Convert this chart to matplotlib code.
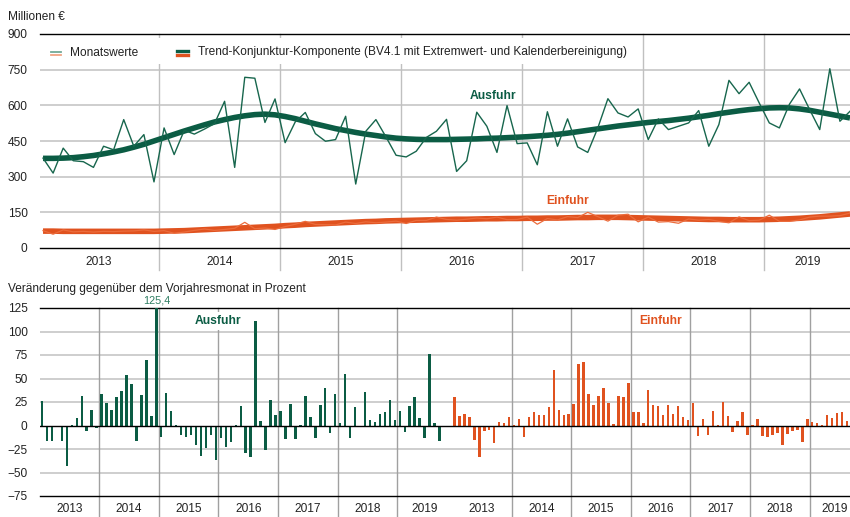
import matplotlib
matplotlib.use("Agg")
import matplotlib.pyplot as plt
from matplotlib.lines import Line2D
from matplotlib.patches import Rectangle
import numpy as np

plt.rcParams['font.family'] = ['Liberation Sans', 'DejaVu Sans']

years = ['2013', '2014', '2015', '2016', '2017', '2018', '2019']

# Millionen Euro, monthly Jan 2013 .. Sep 2019
ausfuhr_monat = [378, 315, 420, 367, 363, 339, 428, 413, 540, 428, 477, 278,
                 505, 393, 495, 479, 500, 523, 617, 339, 718, 714, 528, 627,
                 443, 530, 570, 481, 449, 456, 554, 269, 491, 540, 467, 390,
                 383, 407, 465, 491, 541, 322, 367, 571, 512, 402, 599, 439,
                 442, 350, 573, 428, 543, 425, 402, 505, 628, 568, 551, 585,
                 456, 543, 498, 512, 526, 578, 428, 519, 705, 649, 697, 610,
                 526, 505, 605, 669, 582, 498, 754, 533, 575]
ausfuhr_trend = [377, 377, 378, 380, 384, 389, 396, 404, 413, 424, 436, 450,
                 464, 478, 492, 505, 518, 530, 540, 549, 556, 561, 563, 560,
                 553, 544, 533, 522, 512, 502, 494, 486, 479, 473, 467, 462,
                 459, 457, 456, 456, 456, 457, 458, 459, 461, 462, 464, 466,
                 468, 471, 474, 478, 483, 489, 495, 501, 507, 513, 518, 523,
                 528, 532, 536, 541, 546, 552, 558, 565, 571, 577, 582, 586,
                 589, 590, 589, 585, 579, 571, 563, 555, 547]
einfuhr_monat = [73, 58, 76, 68, 70, 67, 70, 69, 71, 72, 76, 70,
                 73, 62, 67, 74, 80, 74, 78, 83, 108, 81, 84, 78,
                 90, 100, 112, 99, 98, 97, 109, 103, 110, 106, 109, 113,
                 103, 116, 116, 130, 120, 117, 121, 126, 123, 130, 119, 120,
                 130, 100, 124, 118, 132, 128, 150, 132, 113, 138, 142, 110,
                 130, 109, 111, 104, 122, 117, 120, 112, 106, 131, 115, 117,
                 138, 112, 112, 118, 130, 134, 134, 136, 147]
einfuhr_trend = [71, 71, 70, 70, 70, 70, 70, 70, 70, 70, 70, 70,
                 71, 72, 73, 75, 77, 79, 81, 83, 85, 87, 89, 91,
                 94, 96, 99, 101, 103, 105, 107, 109, 111, 112, 114, 115,
                 116, 117, 118, 119, 120, 121, 121, 122, 123, 123, 124, 124,
                 125, 125, 126, 126, 127, 128, 128, 129, 129, 129, 128, 127,
                 126, 125, 124, 123, 122, 121, 120, 120, 119, 119, 119, 119,
                 120, 121, 123, 125, 128, 131, 135, 139, 143]

# Veraenderung gegenueber Vorjahresmonat in Prozent
ausfuhr_vj = [26, -16, -16, -2, -17, -43, 0.3, 8, 31, -6, 17, -3,
              34, 24, 17, 30, 37, 54, 44, -16, 32, 70, 10, 125.4,
              -12, 35, 15, 0.4, -10, -12, -10, -21, -32, -24, -10, -37,
              -13, -23, -18, 1, 21, -29, -33, 111, 5, -26, 27, 11,
              15, -14, 23, -14, 0.3, 31, 9, -13, 22, 40, -8, 33,
              3, 55, -13, 20, -2, 36, 6, 4, 12, 14, 27, 6,
              15, -7, 21, 30, 8, -13, 76, 3, -17]
einfuhr_vj = [30, 10, 12, 9, -15, -34, -6, -5, -19, 3.5, 3, 9,
              0.3, 7, -12, 9, 14, 11, 11, 20, 59, 17, 11, 12,
              23, 65, 68, 34, 22, 31, 40, 24, 2, 31, 30, 45,
              14, 14, 3, 38, 22, 21, 11, 22, 12, 21, 9, 6,
              24, -11, 7, -10, 15, 0.3, 25, 10, -7, 5, 14, -10,
              0.5, 7, -11, -12, -10, -8, -21, -9, -6, -5, -18, 7,
              4, 3, 0.3, 11, 8, 13, 14, 5]

GREEN = '#0b5c44'
GREEN_THIN = '#17664d'
ORANGE = '#e0521f'
ORANGE_THIN = '#ec6c3c'
GRID = '#c6c6c6'
SEP = '#a0a0a0'
TXT = '#222222'
FS = 8.6

W, H = 850, 517
def fx(x): return x / W
def fy(y): return 1 - y / H

fig = plt.figure(figsize=(8.5, 5.17), dpi=100)

# ---------------- top chart ----------------
ax1 = fig.add_axes([fx(40), fy(248), 810 / W, 214 / H])
m = np.arange(len(ausfuhr_monat))
ax1.plot(m, ausfuhr_trend, color=GREEN, lw=4, solid_capstyle='butt', zorder=3)
ax1.plot(m, ausfuhr_monat, color=GREEN_THIN, lw=1.0, zorder=4)
ax1.plot(m, einfuhr_trend, color=ORANGE, lw=4, solid_capstyle='butt', zorder=3)
ax1.plot(m, einfuhr_monat, color=ORANGE_THIN, lw=0.9, zorder=4)
ax1.set_xlim(-0.3, 80.0)
ax1.set_ylim(0, 900)
ax1.set_yticks(range(0, 901, 150))
ax1.set_xticks([])
for v in range(150, 900, 150):
    ax1.axhline(v, color=GRID, lw=1.2, zorder=1)
for k in range(1, 7):
    ax1.axvline(12 * k - 0.5, ymin=-0.103, ymax=1, color='#c0c0c0', lw=1.0,
                clip_on=False, zorder=1)
centers_top = [5.5 + 12 * k for k in range(6)] + [75.8]
for c, yr in zip(centers_top, years):
    ax1.text(c, -0.065, yr, transform=ax1.get_xaxis_transform(), ha='center',
             va='center', fontsize=FS, color=TXT)
ax1.text(44.6, 639, 'Ausfuhr', color=GREEN, fontsize=8.7, fontweight='bold',
         ha='center', va='center')
ax1.text(52.0, 198, 'Einfuhr', color=ORANGE, fontsize=8.7, fontweight='bold',
         ha='center', va='center')

# ---------------- bottom chart ----------------
ax2 = fig.add_axes([fx(40), fy(496), 810 / W, 188 / H])
xa = np.arange(len(ausfuhr_vj))
xe = 83 + np.arange(len(einfuhr_vj))
ax2.bar(xa, ausfuhr_vj, width=0.5, color=GREEN, zorder=3)
ax2.bar(xe, einfuhr_vj, width=0.5, color=ORANGE, zorder=3)
ax2.set_xlim(-0.4, 162.6)
ax2.set_ylim(-75, 125)
ax2.set_yticks(range(-75, 126, 25))
ax2.set_xticks([])
for v in [100, 75, 50, 25, -25, -50]:
    ax2.axhline(v, color=GRID, lw=1.2, zorder=1)
ax2.axhline(0, color='black', lw=1.0, zorder=4)
seps = [12 * k - 0.5 for k in range(1, 7)] + [83 + 12 * k - 0.5 for k in range(1, 7)]
for s in seps:
    ax2.axvline(s, ymin=-0.112, ymax=1, color=SEP, lw=1.0, clip_on=False, zorder=1)
centers_bot = [5.5 + 12 * k for k in range(6)] + [77]
centers_bot += [88.5 + 12 * k for k in range(6)] + [159.6]
for c, yr in zip(centers_bot, years + years):
    ax2.text(c, -0.069, yr, transform=ax2.get_xaxis_transform(), ha='center',
             va='center', fontsize=FS, color=TXT)
ax2.text(35.4, 111, 'Ausfuhr', color=GREEN, fontsize=8.7, fontweight='bold',
         ha='center', va='center', zorder=5,
         bbox=dict(fc='white', ec='none', pad=2))
ax2.text(124.5, 111, 'Einfuhr', color=ORANGE, fontsize=8.7, fontweight='bold',
         ha='center', va='center', zorder=5)
ax2.text(23, 133, '125,4', color='#2f7d62', fontsize=7.8, ha='center',
         va='center', clip_on=False)

for ax in (ax1, ax2):
    for side in ('left', 'right'):
        ax.spines[side].set_visible(False)
    ax.spines['top'].set_color('black')
    ax.spines['bottom'].set_color('black')
    ax.spines['top'].set_linewidth(1.0)
    ax.spines['bottom'].set_linewidth(1.0)
    ax.tick_params(axis='y', length=0, pad=9, labelsize=FS, labelcolor=TXT)

# titles
fig.text(fx(8), fy(17), 'Millionen €', fontsize=FS, va='center', color=TXT)
fig.text(fx(8), fy(289), 'Veränderung gegenüber dem Vorjahresmonat in Prozent',
         fontsize=FS, va='center', color=TXT)

# legend (drawn by hand: two stacked strokes per entry)
fig.add_artist(Rectangle((fx(41), fy(64)), 600 / W, 26 / H, transform=fig.transFigure,
                         fc='white', ec='none', zorder=5))
fig.add_artist(Line2D([fx(51), fx(61)], [fy(52)] * 2, color='#72a996', lw=1.3,
                      transform=fig.transFigure, zorder=6))
fig.add_artist(Line2D([fx(51), fx(61)], [fy(54.5)] * 2, color='#f0a484', lw=1.3,
                      transform=fig.transFigure, zorder=6))
fig.text(fx(70), fy(52.5), 'Monatswerte', fontsize=FS, va='center', color=TXT,
         zorder=6)
fig.add_artist(Line2D([fx(177), fx(188)], [fy(51.3)] * 2, color=GREEN, lw=2.4,
                      transform=fig.transFigure, zorder=6))
fig.add_artist(Line2D([fx(177), fx(188)], [fy(55)] * 2, color=ORANGE, lw=2.4,
                      transform=fig.transFigure, zorder=6))
fig.text(fx(198), fy(52.5),
         'Trend-Konjunktur-Komponente (BV4.1 mit Extremwert- und Kalenderbereinigung)',
         fontsize=FS, va='center', color=TXT, zorder=6)

fig.savefig('out.png', dpi=100)
